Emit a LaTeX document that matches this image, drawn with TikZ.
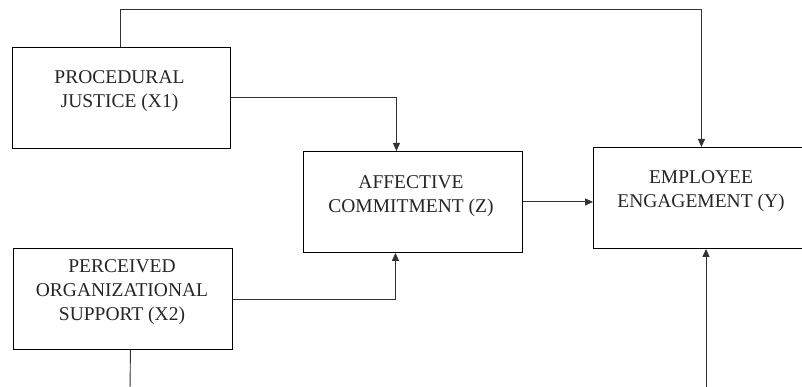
\documentclass[tikz,border=0pt]{standalone}
\usepackage{fontspec}
\setmainfont{Liberation Serif}
\usetikzlibrary{arrows.meta,calc}
\begin{document}
\begin{tikzpicture}[x=1pt,y=-1pt,
  box/.style={draw=black,line width=0.9pt,anchor=north west,inner sep=0pt},
  lbl/.style={align=center,inner sep=0pt,font=\fontsize{19.5}{24}\selectfont,text=black!85},
  conn/.style={draw=black!80,line width=0.9pt},
  arr/.style={conn,-{Triangle[length=8pt,width=7pt]}}]
\useasboundingbox (0,0) rectangle (802,387);
\clip (0,0) rectangle (802,387);
\fill[white] (0,0) rectangle (802,387);
% boxes
\node[box,minimum width=218pt,minimum height=101pt] (pj) at (12,47) {};
\node[box,minimum width=219pt,minimum height=101pt] (pos) at (13,248) {};
\node[box,minimum width=219pt,minimum height=101pt] (ac) at (303,151) {};
\node[box,minimum width=216pt,minimum height=101pt] (ee) at (593,147) {};
% texts
\node[lbl] (pjt) at (119.5,91) {PROCEDURAL\\JUSTICE (X1)};
\node[lbl] (post) at (122,292) {PERCEIVED\\ORGANIZATIONAL\\SUPPORT (X2)};
\node[lbl] (act) at (411,196) {AFFECTIVE\\COMMITMENT (Z)};
\node[lbl] (eet) at (701,191.5) {EMPLOYEE\\ENGAGEMENT (Y)};
% free ends
\coordinate (c1) at (130,390);
\coordinate (c2) at (706,390);
\coordinate (topy) at (0,9);
% connectors
\draw[arr] ([xshift=-1pt]pj.north) |- (topy -| ee.north) -- (ee.north);
\draw[arr] (pj.east) -| ([xshift=-16.5pt]ac.north);
\draw[arr] (pos.east) -| ([xshift=-17.5pt]ac.south);
\draw[arr] (ac.east) -- (ac.east -| ee.west);
\draw[conn] ([xshift=7.5pt]pos.south) -- (c1);
\draw[arr] (c2) -- (c2 |- ee.south);
\end{tikzpicture}
\end{document}
